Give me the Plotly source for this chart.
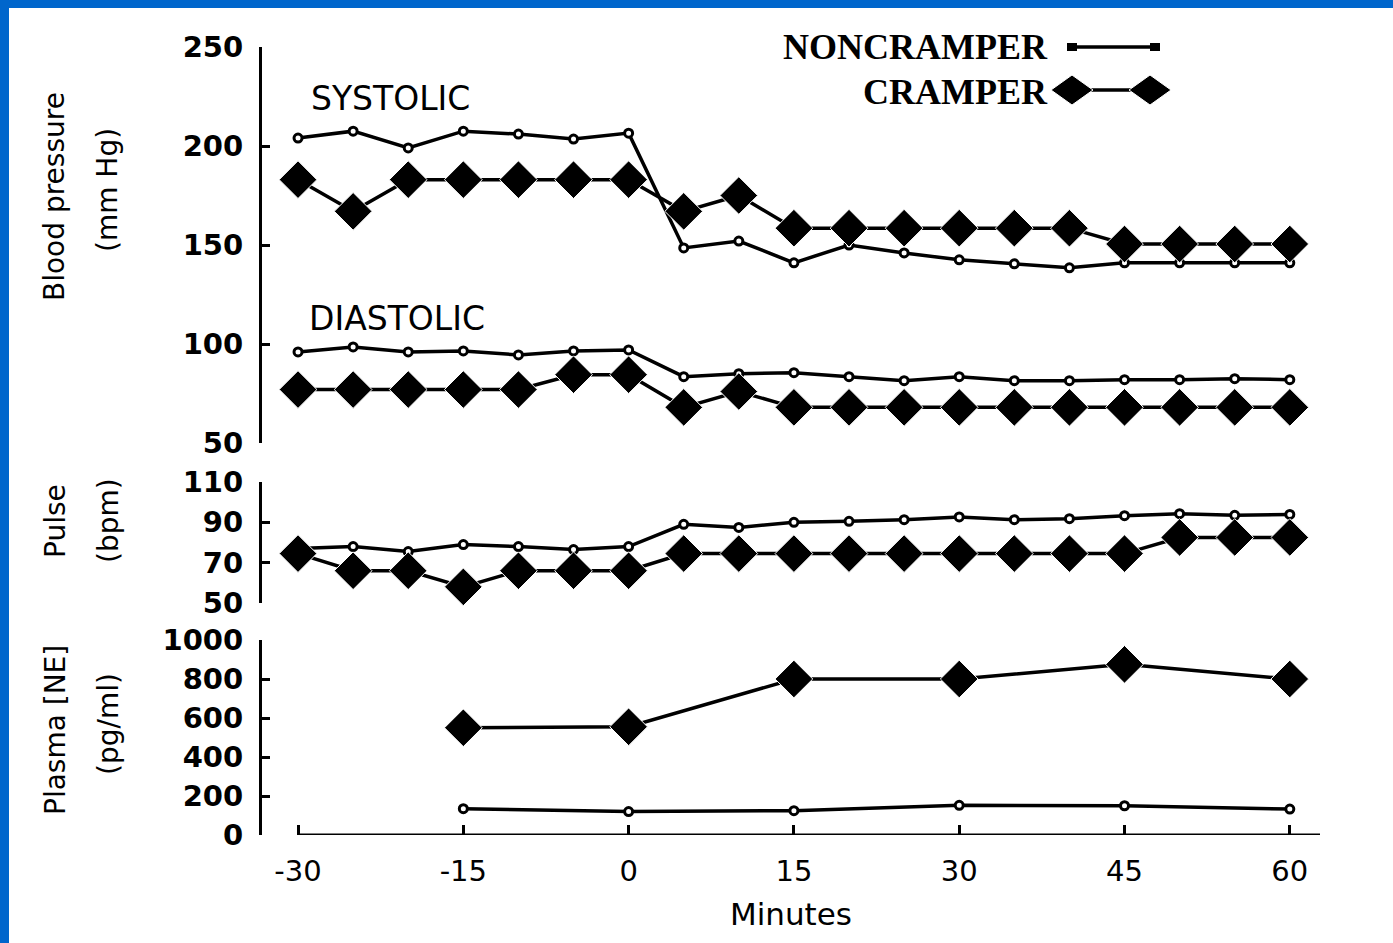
import plotly.graph_objects as go

# ---------------- data ----------------
minutes = [-30, -25, -20, -15, -10, -5, 0, 5, 10, 15, 20, 25, 30, 35, 40, 45, 50, 55, 60]

systolic_noncramper = [204, 207.5, 199, 207.5, 206, 203.5, 206.5, 148.5, 152, 141, 150, 146,
                       142.5, 140.5, 138.5, 141, 141, 141, 141]
systolic_cramper = [183, 167, 183, 183, 183, 183, 183, 167, 175, 158.5, 158.5, 158.5,
                    158.5, 158.5, 158.5, 150.5, 150.5, 150.5, 150.5]
diastolic_noncramper = [96, 98.5, 96, 96.5, 94.5, 96.5, 97, 83.5, 85, 85.5, 83.5, 81.5,
                        83.5, 81.5, 81.5, 82, 82, 82.5, 82]
diastolic_cramper = [77, 77, 77, 77, 77, 84.5, 84.5, 68, 76, 68, 68, 68,
                     68, 68, 68, 68, 68, 68, 68]

pulse_noncramper = [77, 78, 75.5, 79, 78, 76.5, 78, 89, 87.5, 90, 90.5, 91.3,
                    92.7, 91.3, 91.8, 93.3, 94.3, 93.5, 93.9]
pulse_cramper = [74.5, 66, 66, 58, 66, 66, 66, 74.5, 74.5, 74.5, 74.5, 74.5,
                 74.5, 74.5, 74.5, 74.5, 82.5, 82.5, 82.5]

ne_minutes = [-15, 0, 15, 30, 45, 60]
ne_noncramper = [135, 120, 125, 152, 150, 133]
ne_cramper = [550, 555, 800, 800, 875, 800]

x_tickvals = [-30, -15, 0, 15, 30, 45, 60]
x_ticktext = ["-30", "-15", "0", "15", "30", "45", "60"]
bp_ticks = [50, 100, 150, 200, 250]
pulse_ticks = [50, 70, 90, 110]
ne_ticks = [0, 200, 400, 600, 800, 1000]

# ---------------- layout geometry ----------------
W, H = 1393, 943
L, R, T, B = 262, 73, 47, 108
PW, PH = W - L - R, H - T - B
X_RANGE = [-33.27, 62.74]


def px(x):
    return (x - L) / PW


def py(y):
    return (H - B - y) / PH


BLACK = "black"
PIX = "DejaVu Sans"

fig = go.Figure()

non_line = dict(color=BLACK, width=3.5)
non_marker = dict(symbol="circle", size=8, color="white", line=dict(color=BLACK, width=3))
cr_line = dict(color=BLACK, width=3.5)
cr_marker = dict(symbol="diamond", size=29, color=BLACK, line=dict(color="white", width=1))


def add(xv, yv, kind, xa, ya):
    fig.add_trace(go.Scatter(
        x=xv, y=yv, mode="lines+markers",
        line=non_line if kind == "non" else cr_line,
        marker=non_marker if kind == "non" else cr_marker,
        xaxis=xa, yaxis=ya, showlegend=False, cliponaxis=False,
    ))


add(minutes, systolic_noncramper, "non", "x", "y")
add(minutes, diastolic_noncramper, "non", "x", "y")
add(minutes, systolic_cramper, "cr", "x", "y")
add(minutes, diastolic_cramper, "cr", "x", "y")
add(minutes, pulse_noncramper, "non", "x2", "y2")
add(minutes, pulse_cramper, "cr", "x2", "y2")
add(ne_minutes, ne_noncramper, "non", "x3", "y3")
add(ne_minutes, ne_cramper, "cr", "x3", "y3")

ytick_font = dict(family=PIX, size=29, color=BLACK, weight="bold")


def yaxis(domain, rng, ticks):
    return dict(
        domain=domain, range=rng, tickvals=ticks, ticktext=[str(t) for t in ticks],
        showline=True, linecolor=BLACK, linewidth=3, ticks="inside", ticklen=8,
        tickwidth=3, tickcolor=BLACK, showgrid=False, zeroline=False,
        tickfont=ytick_font, ticklabelstandoff=10,
    )


hidden_x = dict(range=X_RANGE, visible=False, showgrid=False, zeroline=False)

fig.update_layout(
    width=W, height=H,
    margin=dict(l=L, r=R, t=T, b=B, pad=0),
    paper_bgcolor="white", plot_bgcolor="white",
    xaxis=dict(hidden_x, anchor="y"),
    xaxis2=dict(hidden_x, anchor="y2", matches="x"),
    xaxis3=dict(
        range=X_RANGE, anchor="y3", matches="x", showline=False, showgrid=False, zeroline=False,
        tickvals=x_tickvals, ticktext=x_ticktext, ticks="inside", ticklen=10, tickwidth=3,
        tickcolor=BLACK, tickfont=dict(family=PIX, size=29, color=BLACK), ticklabelstandoff=16,
        title=dict(text="Minutes", font=dict(family=PIX, size=31, color=BLACK), standoff=16),
    ),
    yaxis=dict(yaxis([py(443), 1.0], [50, 250], bp_ticks), anchor="x"),
    yaxis2=dict(yaxis([py(603), py(482)], [50, 110], pulse_ticks), anchor="x2"),
    yaxis3=dict(yaxis([0, py(640)], [0, 1000], ne_ticks), anchor="x3"),
)

shapes = []
# x axis baseline (starts at -30, offset from the y axes)
shapes.append(dict(type="line", xref="x3", yref="y3", x0=-30, x1=X_RANGE[1], y0=0, y1=0,
                   line=dict(color=BLACK, width=3)))
# blue frame
BLUE = "#0066CC"
shapes.append(dict(type="rect", xref="paper", yref="paper", x0=px(0), x1=px(W), y0=py(8), y1=py(0),
                   fillcolor=BLUE, line=dict(width=0), layer="above"))
shapes.append(dict(type="rect", xref="paper", yref="paper", x0=px(0), x1=px(9), y0=py(H), y1=py(0),
                   fillcolor=BLUE, line=dict(width=0), layer="above"))
# legend keys
shapes.append(dict(type="line", xref="paper", yref="paper", x0=px(1072), x1=px(1155), y0=py(47), y1=py(47),
                   line=dict(color=BLACK, width=3.5)))
for cx in (1072, 1155):
    shapes.append(dict(type="rect", xref="paper", yref="paper", x0=px(cx - 5), x1=px(cx + 5),
                       y0=py(51), y1=py(43), fillcolor=BLACK, line=dict(width=0)))
shapes.append(dict(type="line", xref="paper", yref="paper", x0=px(1072), x1=px(1150), y0=py(90), y1=py(90),
                   line=dict(color=BLACK, width=3.5)))
for cx in (1072, 1150):
    cy = 90
    path = "M {},{} L {},{} L {},{} L {},{} Z".format(
        px(cx - 21), py(cy), px(cx), py(cy - 15), px(cx + 21), py(cy), px(cx), py(cy + 15))
    shapes.append(dict(type="path", xref="paper", yref="paper", path=path, fillcolor=BLACK,
                       line=dict(color="white", width=1)))
fig.update_layout(shapes=shapes)

ann = []
# panel labels
ann.append(dict(text="SYSTOLIC", xref="x", yref="y", x=-29, y=224, xanchor="left", yanchor="middle",
                showarrow=False, font=dict(family=PIX, size=33, color=BLACK)))
ann.append(dict(text="DIASTOLIC", xref="x", yref="y", x=-29.2, y=113, xanchor="left", yanchor="middle",
                showarrow=False, font=dict(family=PIX, size=33, color=BLACK)))
# legend texts
serif = dict(family="Liberation Serif", size=36, color=BLACK, weight="bold")
ann.append(dict(text="NONCRAMPER", xref="paper", yref="paper", x=px(1050), y=py(47),
                xanchor="right", yanchor="middle", showarrow=False, font=serif))
ann.append(dict(text="CRAMPER", xref="paper", yref="paper", x=px(1050), y=py(92),
                xanchor="right", yanchor="middle", showarrow=False, font=serif))
# rotated axis titles
title_font = dict(family=PIX, size=28, color=BLACK)
for text, xc, yc in [("Blood pressure", 55, 197), ("(mm Hg)", 108, 190),
                     ("Pulse", 55, 521), ("(bpm)", 108, 521),
                     ("Plasma [NE]", 55, 730), ("(pg/ml)", 108, 724)]:
    ann.append(dict(text=text, xref="paper", yref="paper", x=px(xc), y=py(yc), textangle=-90,
                    xanchor="center", yanchor="middle", showarrow=False, font=title_font))
fig.update_layout(annotations=ann)

fig.write_html("out.html")
